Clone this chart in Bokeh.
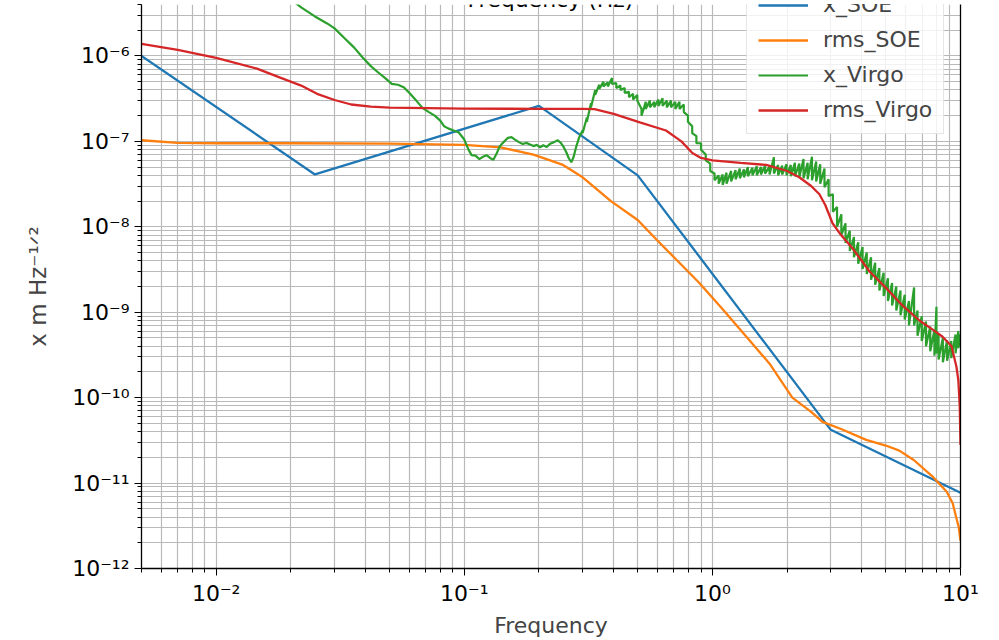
from bokeh.plotting import figure
from bokeh.embed import file_html
from bokeh.resources import INLINE
from bokeh.models import FixedTicker, CustomJSTickFormatter, LogAxis, Label, Range1d
import math

# ---------------- data ----------------
soe_f = [0.005, 0.025, 0.2, 0.5, 3.0, 10.0]
soe_x = [1.0e-6, 4.1e-8, 2.6e-7, 4.0e-8, 4.2e-11, 7.7e-12]

soe_rms_f = [0.005, 0.007, 0.01, 0.02, 0.05, 0.1, 0.14, 0.19, 0.25, 0.3, 0.39, 0.5, 0.6,
             0.7, 0.886, 1.1, 1.41, 1.7, 2.1, 2.5, 2.78, 3.3, 4.17, 5.0, 5.67, 6.5, 7.7,
             8.8, 9.3, 9.6, 9.85, 10.0]
soe_rms = [1.03e-7, 9.6e-8, 9.5e-8, 9.5e-8, 9.4e-8, 9.1e-8, 8.5e-8, 7.0e-8, 5.3e-8, 3.8e-8,
           2.0e-8, 1.2e-8, 6.9e-9, 4.4e-9, 2.2e-9, 1.08e-9, 4.7e-10, 2.5e-10, 1.0e-10, 6.8e-11,
           5.2e-11, 4.3e-11, 3.2e-11, 2.75e-11, 2.4e-11, 1.85e-11, 1.2e-11, 7.9e-12, 5.8e-12,
           4.0e-12, 3.0e-12, 2.1e-12]

# x_Virgo, low-frequency part (single trace)
virgo_f = [0.020, 0.022, 0.025, 0.028, 0.030, 0.033, 0.036, 0.039, 0.042, 0.045, 0.048, 0.051,
           0.054, 0.057, 0.060, 0.064, 0.068, 0.072, 0.076, 0.080, 0.083, 0.086, 0.090, 0.095,
           0.100, 0.104, 0.107, 0.111, 0.115, 0.119, 0.123, 0.127, 0.131, 0.135, 0.138, 0.141,
           0.145, 0.150, 0.155, 0.160, 0.166, 0.172, 0.178, 0.184, 0.190, 0.196, 0.202, 0.208,
           0.215, 0.222, 0.230, 0.238, 0.245, 0.252, 0.258, 0.264, 0.270, 0.276, 0.283, 0.290]
virgo_x = [4.6e-6, 3.7e-6, 2.9e-6, 2.4e-6, 2.1e-6, 1.6e-6, 1.25e-6, 9.5e-7, 7.6e-7, 6.4e-7, 5.5e-7, 4.7e-7,
           4.6e-7, 4.3e-7, 3.7e-7, 3.0e-7, 2.45e-7, 2.2e-7, 2.0e-7, 1.75e-7, 1.5e-7, 1.42e-7, 1.35e-7, 1.27e-7,
           1.05e-7, 8.0e-8, 6.9e-8, 6.8e-8, 6.2e-8, 6.6e-8, 6.9e-8, 6.4e-8, 6.1e-8, 7.2e-8, 8.4e-8, 9.2e-8,
           1.0e-7, 1.1e-7, 1.12e-7, 1.05e-7, 9.8e-8, 9.3e-8, 9.6e-8, 9.2e-8, 8.8e-8, 9.1e-8, 8.5e-8, 9.0e-8,
           8.6e-8, 9.4e-8, 9.8e-8, 1.03e-7, 9.6e-8, 8.5e-8, 7.4e-8, 6.3e-8, 5.7e-8, 6.6e-8, 8.8e-8, 1.1e-7]

# x_Virgo, noisy part: per-frequency upper / lower excursion of the trace
virgo_band_f = [0.300, 0.312, 0.324, 0.337, 0.350, 0.364, 0.379, 0.394, 0.410, 0.426, 0.443, 0.461,
                0.479, 0.498, 0.518, 0.539, 0.560, 0.583, 0.606, 0.630, 0.655, 0.681, 0.709, 0.737,
                0.767, 0.797, 0.829, 0.862, 0.90, 0.94, 0.98, 1.02, 1.06, 1.10, 1.14, 1.19, 1.24,
                1.29, 1.34, 1.39, 1.45, 1.51, 1.57, 1.63, 1.70, 1.77, 1.84, 1.91, 1.99, 2.07, 2.15,
                2.24, 2.33, 2.42, 2.52, 2.62, 2.72, 2.83, 2.94, 3.06, 3.18, 3.31, 3.44, 3.58, 3.72,
                3.87, 4.03, 4.19, 4.36, 4.53, 4.71, 4.90, 5.10, 5.30, 5.51, 5.73, 5.96, 6.20, 6.50,
                6.71, 6.98, 7.26, 7.55, 7.85, 8.00, 8.16, 8.49, 8.83, 9.18, 9.55, 9.80, 10.0]
virgo_band_hi = [1.35e-7, 1.9e-7, 2.8e-7, 4.0e-7, 4.6e-7, 5.0e-7, 4.9e-7, 5.5e-7, 4.8e-7, 4.5e-7, 4.2e-7, 3.8e-7,
                 3.6e-7, 3.5e-7, 2.4e-7, 2.9e-7, 3.0e-7, 2.9e-7, 3.1e-7, 3.2e-7, 3.0e-7, 3.0e-7, 2.9e-7, 2.9e-7,
                 2.7e-7, 2.0e-7, 1.5e-7, 1.15e-7, 9.5e-8, 7.0e-8, 5.5e-8, 4.2e-8, 4.0e-8, 4.1e-8, 4.3e-8, 4.5e-8,
                 4.6e-8, 4.8e-8, 4.7e-8, 5.0e-8, 4.9e-8, 5.1e-8, 5.0e-8, 5.2e-8, 5.1e-8, 6.5e-8, 5.3e-8, 5.2e-8,
                 5.4e-8, 5.3e-8, 5.6e-8, 5.5e-8, 6.2e-8, 5.6e-8, 6.6e-8, 5.8e-8, 5.4e-8, 4.8e-8, 3.6e-8, 2.4e-8,
                 1.7e-8, 1.4e-8, 1.1e-8, 9.0e-9, 7.6e-9, 6.6e-9, 5.8e-9, 5.0e-9, 4.4e-9, 3.8e-9, 3.3e-9, 2.9e-9,
                 2.5e-9, 2.2e-9, 2.0e-9, 1.8e-9, 1.6e-9, 1.35e-9, 1.95e-9, 1.05e-9, 9.0e-10, 7.8e-10, 6.8e-10,
                 6.2e-10, 1.16e-9, 5.6e-10, 5.0e-10, 4.7e-10, 4.6e-10, 5.5e-10, 6.0e-10, 5.5e-10]
virgo_band_lo = [1.25e-7, 1.7e-7, 2.5e-7, 3.5e-7, 4.1e-7, 4.4e-7, 4.4e-7, 4.7e-7, 4.2e-7, 4.0e-7, 3.7e-7, 3.3e-7,
                 3.1e-7, 3.0e-7, 2.0e-7, 2.4e-7, 2.5e-7, 2.5e-7, 2.6e-7, 2.6e-7, 2.5e-7, 2.5e-7, 2.4e-7, 2.4e-7,
                 2.2e-7, 1.7e-7, 1.25e-7, 9.5e-8, 8.0e-8, 6.0e-8, 4.5e-8, 3.5e-8, 3.2e-8, 3.1e-8, 3.2e-8, 3.4e-8,
                 3.6e-8, 3.7e-8, 3.8e-8, 3.9e-8, 4.0e-8, 4.0e-8, 4.1e-8, 4.2e-8, 4.1e-8, 4.2e-8, 4.0e-8, 4.1e-8,
                 4.0e-8, 3.9e-8, 3.9e-8, 3.8e-8, 3.7e-8, 3.6e-8, 3.5e-8, 3.4e-8, 3.2e-8, 2.9e-8, 2.3e-8, 1.5e-8,
                 1.0e-8, 8.0e-9, 6.5e-9, 5.2e-9, 4.4e-9, 3.7e-9, 3.2e-9, 2.8e-9, 2.4e-9, 2.1e-9, 1.8e-9, 1.55e-9,
                 1.35e-9, 1.2e-9, 1.05e-9, 9.2e-10, 8.2e-10, 7.0e-10, 7.0e-10, 5.3e-10, 4.6e-10, 4.0e-10, 3.5e-10,
                 3.1e-10, 3.3e-10, 2.8e-10, 2.6e-10, 2.7e-10, 2.9e-10, 3.3e-10, 3.8e-10, 4.0e-10]

virgo_rms_f = [0.005, 0.007, 0.01, 0.0146, 0.018, 0.022, 0.0255, 0.03, 0.035, 0.042, 0.05, 0.1,
               0.2, 0.3, 0.335, 0.4, 0.51, 0.65, 0.75, 0.83, 0.9, 1.0, 1.3, 1.65, 2.0, 2.24,
               2.5, 2.7, 2.85, 3.05, 3.3, 3.67, 4.3, 5.03, 5.83, 6.83, 7.7, 8.45, 9.2, 9.63,
               9.8, 9.93, 10.0]
virgo_rms = [1.38e-6, 1.18e-6, 9.5e-7, 7.1e-7, 5.6e-7, 4.5e-7, 3.6e-7, 3.05e-7, 2.7e-7, 2.55e-7,
             2.48e-7, 2.42e-7, 2.4e-7, 2.4e-7, 2.38e-7, 2.1e-7, 1.67e-7, 1.34e-7, 1.0e-7, 7.3e-8,
             6.4e-8, 6.0e-8, 5.6e-8, 5.3e-8, 4.5e-8, 3.8e-8, 3.0e-8, 2.4e-8, 1.8e-8, 1.1e-8, 8.0e-9,
             5.6e-9, 3.0e-9, 1.9e-9, 1.2e-9, 8.0e-10, 6.3e-10, 5.2e-10, 4.0e-10, 2.3e-10, 1.6e-10,
             8.0e-11, 2.8e-11]

x_major = [1e-2, 1e-1, 1e0, 1e1]
y_major = [1e-12, 1e-11, 1e-10, 1e-9, 1e-8, 1e-7, 1e-6]
x_minor = [m * 10.0 ** k for k in range(-3, 1) for m in range(2, 10)]
y_minor = [m * 10.0 ** k for k in range(-13, -5) for m in range(2, 10)]

# assemble the green trace: smooth part, then up/down excursions of the noisy part
green_f = list(virgo_f)
green_v = list(virgo_x)
for f, hi, lo in zip(virgo_band_f, virgo_band_hi, virgo_band_lo):
    green_f += [f, f]
    green_v += [hi, lo]

# ---------------- layout ----------------
X0, X1 = 0.005, 10.0
Y0, Y1 = 1e-12, 4e-6
FL, FR, FT, FB = 141, 960, 4, 570


def fx(px):
    return 10 ** (math.log10(X0) + (px - FL) * (math.log10(X1) - math.log10(X0)) / (FR - FL))


def fy(py):
    return 10 ** (math.log10(Y0) + (FB - py) * (math.log10(Y1) - math.log10(Y0)) / (FB - FT))


FONT = "DejaVu Sans"
BLUE, ORANGE, GREEN, RED = "#1f77b4", "#ff7f0e", "#2ca02c", "#d62728"

p = figure(width=999, height=640, x_axis_type="log", y_axis_type="log",
           x_range=Range1d(X0, X1), y_range=Range1d(Y0, Y1),
           output_backend="svg", toolbar_location=None,
           min_border_left=FL, min_border_right=999 - FR, min_border_top=FT,
           min_border_bottom=640 - FB)
p.outline_line_color = None

lw = 2.3
p.line(soe_f, soe_x, color=BLUE, line_width=lw, legend_label="x_SOE")
p.line(soe_rms_f, soe_rms, color=ORANGE, line_width=lw, legend_label="rms_SOE")
p.line(green_f, green_v, color=GREEN, line_width=2.2, legend_label="x_Virgo")
p.line(virgo_rms_f, virgo_rms, color=RED, line_width=lw, legend_label="rms_Virgo")

fmt = CustomJSTickFormatter(code="""
const e = Math.round(Math.log10(tick));
const sup = {'-':'\u207b','0':'\u2070','1':'\u00b9','2':'\u00b2','3':'\u00b3','4':'\u2074',
             '5':'\u2075','6':'\u2076','7':'\u2077','8':'\u2078','9':'\u2079'};
return '10' + String(e).split('').map(c => sup[c]).join('');
""")

for ax, maj, mnr in ((p.xaxis[0], x_major, x_minor), (p.yaxis[0], y_major, y_minor)):
    ax.ticker = FixedTicker(ticks=maj, minor_ticks=mnr)
    ax.formatter = fmt
    ax.axis_line_color = "black"
    ax.axis_line_width = 1.3
    ax.major_tick_line_color = "black"
    ax.minor_tick_line_color = "black"
    ax.major_tick_out = 7
    ax.major_tick_in = 0
    ax.minor_tick_out = 4
    ax.minor_tick_in = 0
    ax.major_label_text_font = FONT
    ax.major_label_text_font_size = "22px"
    ax.major_label_text_color = "black"
    ax.major_label_standoff = 5

p.xaxis.axis_label = "Frequency"
p.xaxis.axis_label_text_font = FONT
p.xaxis.axis_label_text_font_size = "22px"
p.xaxis.axis_label_text_font_style = "normal"
p.xaxis.axis_label_standoff = 4

p.yaxis.axis_label = "x m Hz\u207b\u00b9\u141f\u00b2"
p.yaxis.axis_label_text_font = FONT
p.yaxis.axis_label_text_font_size = "23px"
p.yaxis.axis_label_text_font_style = "normal"
p.yaxis.axis_label_standoff = 18

right = LogAxis(ticker=FixedTicker(ticks=[]), axis_line_color="black", axis_line_width=1.3,
                major_tick_line_color=None, minor_tick_line_color=None,
                major_label_text_font_size="0px")
p.add_layout(right, "right")

for g in (p.xgrid[0], p.ygrid[0]):
    g.grid_line_color = "#b9b9b9"
    g.grid_line_width = 1.2
    g.minor_grid_line_color = "#b9b9b9"
    g.minor_grid_line_width = 1.2

# partially hidden title at the top edge
p.add_layout(Label(x=fx(550), y=fy(-1), text="Frequency (Hz)", text_align="center",
                   text_baseline="alphabetic", text_font=FONT, text_font_size="22px",
                   text_color="black"))

lg = p.legend[0]
lg.location = (605, 434)
lg.label_text_font = FONT
lg.label_text_font_size = "22px"
lg.glyph_width = 50
lg.glyph_height = 24
lg.label_height = 24
lg.label_standoff = 15
lg.spacing = 10
lg.padding = 11
lg.margin = 0
lg.border_line_color = "#cccccc"
lg.border_line_width = 1
lg.background_fill_alpha = 0.8

open("out.html", "w").write(file_html(p, INLINE))
